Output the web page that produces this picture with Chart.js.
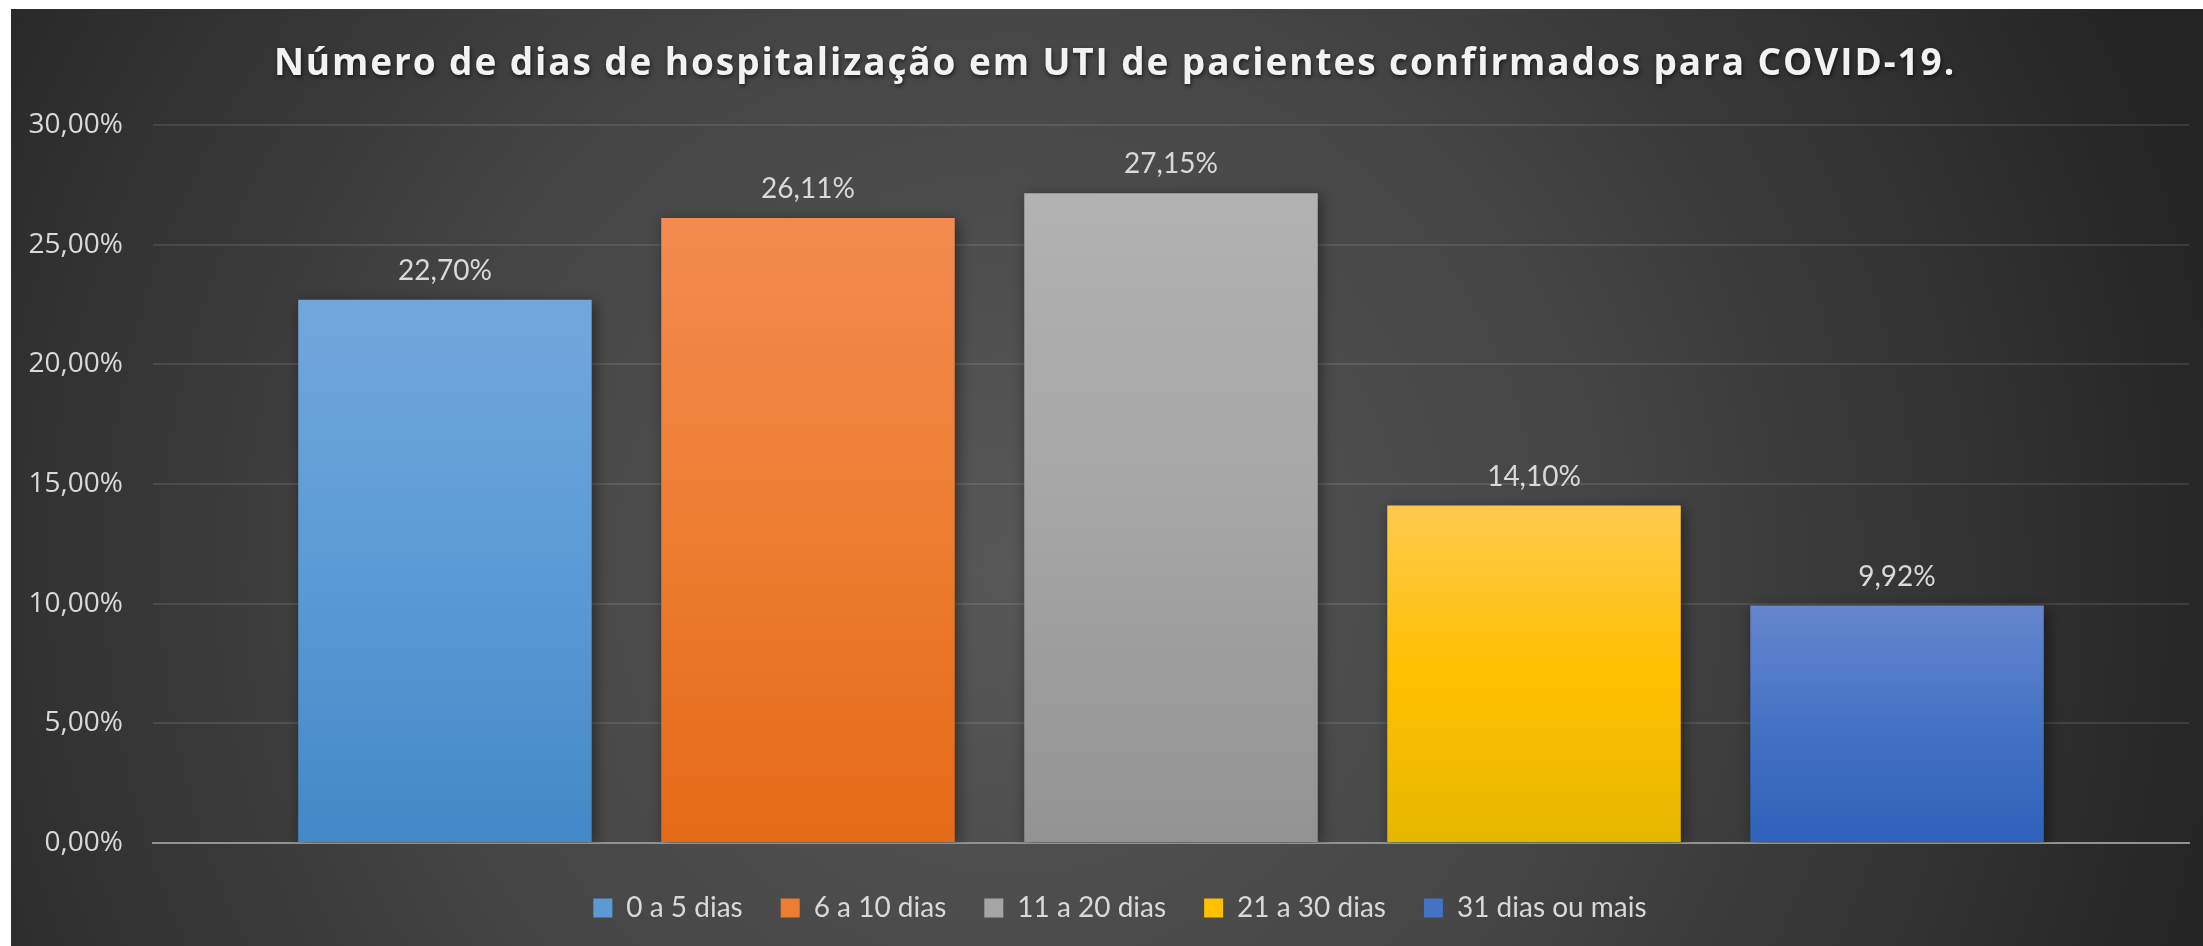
<!DOCTYPE html>
<html>
<head>
<meta charset="utf-8">
<script src="https://cdn.jsdelivr.net/npm/chart.js@4.4.1/dist/chart.umd.min.js"></script>
<style>
  html, body { margin: 0; padding: 0; background: #ffffff; width: 2203px; height: 946px; overflow: hidden; }
  #wrap { position: absolute; left: 11px; top: 9px; width: 2192px; height: 937px; }
</style>
</head>
<body>
<div id="wrap"><canvas id="c"></canvas></div>
<script>
const titleText = 'Número de dias de hospitalização em UTI de pacientes confirmados para COVID-19.';
const categories = [''];
const seriesNames = ['0 a 5 dias', '6 a 10 dias', '11 a 20 dias', '21 a 30 dias', '31 dias ou mais'];
const seriesValues = [22.70, 26.11, 27.15, 14.10, 9.92];
const yTicks = [0, 5, 10, 15, 20, 25, 30];
const colorTop = ['#71a7dd', '#f38b50', '#b2b2b2', '#ffc94d', '#6586cd'];
const colorMid = ['#5b9bd5', '#ed7d31', '#a5a5a5', '#ffc000', '#4472c4'];
const colorBottom = ['#4388c7', '#e46a18', '#939393', '#e6b700', '#2e61ba'];

const fmt = v => v.toFixed(2).replace('.', ',') + '%';

function barGradient(ctx) {
  const chart = ctx.chart;
  const i = ctx.datasetIndex;
  const ys = chart.scales && chart.scales.y;
  if (!ys || !chart.chartArea) return colorMid[i];
  const top = ys.getPixelForValue(seriesValues[i]);
  const bottom = ys.getPixelForValue(0);
  const g = chart.ctx.createLinearGradient(0, top, 0, bottom);
  g.addColorStop(0, colorTop[i]);
  g.addColorStop(0.5, colorMid[i]);
  g.addColorStop(1, colorBottom[i]);
  return g;
}

const bgPlugin = {
  id: 'bg',
  beforeDraw(chart) {
    const { ctx, width, height } = chart;
    ctx.save();
    const g = ctx.createRadialGradient(1000, 560, 0, 1000, 560, 1250);
    g.addColorStop(0, '#575757');
    g.addColorStop(0.45, '#464646');
    g.addColorStop(1, '#242424');
    ctx.fillStyle = g;
    ctx.fillRect(0, 0, width, height);
    ctx.restore();
  }
};

const legendShift = {
  id: 'legendShift',
  afterLayout(chart) {
    if (chart.legend) {
      chart.legend.left += 20;
      chart.legend.right += 20;
    }
  }
};

const titlePlugin = {
  id: 'spacedTitle',
  afterDraw(chart) {
    const ctx = chart.ctx;
    ctx.save();
    ctx.font = 'bold 37px "Open Sans"';
    if ('letterSpacing' in ctx) ctx.letterSpacing = '1.9px';
    ctx.fillStyle = '#f2f2f2';
    ctx.textAlign = 'center';
    ctx.textBaseline = 'alphabetic';
    ctx.shadowColor = 'rgba(0,0,0,0.6)';
    ctx.shadowBlur = 4;
    ctx.shadowOffsetX = 1;
    ctx.shadowOffsetY = 2;
    ctx.fillText(titleText, 1104, 66);
    ctx.restore();
  }
};

const shadowPlugin = {
  id: 'barShadow',
  beforeDatasetsDraw(chart) {
    const ctx = chart.ctx;
    ctx.save();
    ctx.shadowColor = 'rgba(0,0,0,0.45)';
    ctx.shadowBlur = 14;
    ctx.shadowOffsetX = 3;
    ctx.shadowOffsetY = 3;
  },
  afterDatasetsDraw(chart) {
    chart.ctx.restore();
  }
};

const labelPlugin = {
  id: 'valueLabels',
  afterDatasetsDraw(chart) {
    const ctx = chart.ctx;
    ctx.save();
    ctx.font = '28px Lato';
    ctx.fillStyle = '#d9d9d9';
    ctx.textAlign = 'center';
    ctx.textBaseline = 'alphabetic';
    chart.data.datasets.forEach((ds, i) => {
      const el = chart.getDatasetMeta(i).data[0];
      ctx.fillText(fmt(ds.data[0]), el.x, el.y - 20);
    });
    ctx.restore();
  }
};

const datasets = seriesNames.map((name, i) => ({
  label: name,
  data: [seriesValues[i]],
  backgroundColor: barGradient,
  borderWidth: 0
}));

new Chart(document.getElementById('c'), {
  type: 'bar',
  data: { labels: categories, datasets },
  plugins: [bgPlugin, legendShift, shadowPlugin, labelPlugin, titlePlugin],
  options: {
    responsive: true,
    maintainAspectRatio: false,
    animation: false,
    categoryPercentage: 0.8915,
    barPercentage: 0.8085,
    layout: { padding: { left: 0, right: 14, top: 116, bottom: 14 } },
    plugins: {
      title: { display: false },
      legend: {
        display: true,
        position: 'bottom',
        labels: {
          color: '#d9d9d9',
          font: { family: 'Lato', size: 28 },
          boxWidth: 19,
          boxHeight: 19,
          padding: 38,
          generateLabels(chart) {
            return chart.data.datasets.map((ds, i) => ({
              text: ds.label,
              fillStyle: colorMid[i],
              strokeStyle: colorMid[i],
              lineWidth: 0,
              fontColor: '#d9d9d9',
              datasetIndex: i,
              hidden: false
            }));
          }
        }
      },
      tooltip: { enabled: false }
    },
    scales: {
      x: {
        ticks: { display: false },
        grid: { display: false, drawTicks: false },
        border: { display: true, color: '#929292', width: 2 },
        afterFit(scale) { scale.height = 13; }
      },
      y: {
        min: 0,
        max: 30,
        afterBuildTicks(scale) { scale.ticks = yTicks.map(v => ({ value: v })); },
        afterFit(scale) { scale.width = 142; },
        ticks: {
          color: '#d9d9d9',
          font: { family: 'Open Sans', size: 28 },
          padding: 30,
          callback: v => fmt(v)
        },
        grid: { color: 'rgba(255,255,255,0.10)', lineWidth: 2, drawTicks: false },
        border: { display: false }
      }
    }
  }
});
</script>
</body>
</html>
